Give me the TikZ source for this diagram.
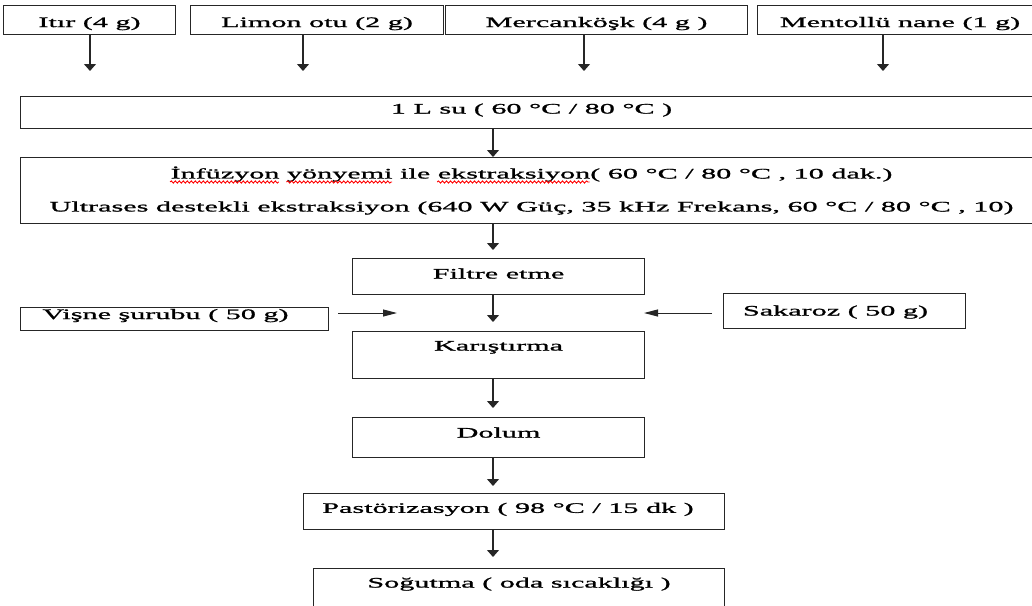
\documentclass[tikz,border=0pt]{standalone}
\usepackage{fontspec}
\setmainfont{Liberation Serif}[FakeStretch=2.08,FakeBold=1.2]
\usetikzlibrary{arrows.meta,decorations.pathmorphing}
\newlength\LineFull
\newlength\WordAend
\newlength\WordBbeg
\newlength\WordBend
\newlength\WordCbeg
\newlength\WordCend
\newcommand\mainfs{\fontsize{14.5pt}{33pt}\selectfont}
\begin{document}
\settowidth\LineFull{\mainfs İnfüzyon yönyemi ile ekstraksiyon( 60 °C / 80 °C , 10 dak.)}%
\settowidth\WordAend{\mainfs İnfüzyon}%
\settowidth\WordBbeg{\mainfs İnfüzyon }%
\settowidth\WordBend{\mainfs İnfüzyon yönyemi}%
\settowidth\WordCbeg{\mainfs İnfüzyon yönyemi ile }%
\settowidth\WordCend{\mainfs İnfüzyon yönyemi ile ekstraksiyon}%
\begin{tikzpicture}[x=1pt,y=-1pt,
  boxbase/.style={draw=black!85, line width=1.1pt, inner sep=0pt, anchor=north west,
    font=\mainfs, text=black},
  box/.style={boxbase, text height=10pt},
  varr/.style={line width=1.1pt, draw=black!85, -{Triangle[width=12pt,length=7pt]}},
  harr/.style={line width=1pt, draw=black!85, -{Triangle[width=7pt,length=14pt]}},
  spellwave/.style={draw=red, line width=0.9pt, decorate,
    decoration={snake, amplitude=1.1pt, segment length=4pt}}]
\useasboundingbox (0,0) rectangle (1032,605);
\clip (0,0) rectangle (1032,605);
% top ingredients
\node[box, minimum width=172pt, minimum height=29pt, text height=14pt, text depth=0pt] (itir) at (3,5) {Itır (4 g)};
\node[box, minimum width=253pt, minimum height=29pt, text height=14pt, text depth=0pt] (limon) at (190,5) {Limon otu (2 g)};
\node[box, minimum width=302pt, minimum height=29pt, text height=14pt, text depth=0pt] (merc) at (445,5) {Mercanköşk (4 g )};
\node[box, minimum width=285pt, minimum height=29pt, text height=14pt, text depth=0pt] (ment) at (757,5) {Mentollü nane (1 g)};
\coordinate (t1) at (90,71);
\coordinate (t2) at (303,71);
\coordinate (t3) at (584,71);
\coordinate (t4) at (883,71);
\draw[varr] (itir.south -| t1) -- (t1);
\draw[varr] (limon.south -| t2) -- (t2);
\draw[varr] (merc.south -| t3) -- (t3);
\draw[varr] (ment.south -| t4) -- (t4);
% main column
\node[box, minimum width=1022pt, minimum height=32pt, text depth=8pt] (su) at (20,96) {1 L su ( 60 °C / 80 °C )};
\node[boxbase, minimum width=1022pt, minimum height=66pt, align=center] (inf) at (20,157)
  {İnfüzyon yönyemi ile ekstraksiyon( 60 °C / 80 °C , 10 dak.)\\
   Ultrases destekli ekstraksiyon (640 W Güç, 35 kHz Frekans, 60 °C / 80 °C , 10)};
% spell-check waves under first line words
\pgfmathsetmacro\lineStart{531-0.5*\LineFull}
\pgfmathsetmacro\wAe{\lineStart+\WordAend}
\pgfmathsetmacro\wBb{\lineStart+\WordBbeg}
\pgfmathsetmacro\wBe{\lineStart+\WordBend}
\pgfmathsetmacro\wCb{\lineStart+\WordCbeg}
\pgfmathsetmacro\wCe{\lineStart+\WordCend}
\coordinate (wa1) at (\lineStart,182);
\coordinate (wa2) at (\wAe,182);
\coordinate (wb1) at (\wBb,182);
\coordinate (wb2) at (\wBe,182);
\coordinate (wc1) at (\wCb,182);
\coordinate (wc2) at (\wCe,182);
\draw[spellwave] (wa1) -- (wa2);
\draw[spellwave] (wb1) -- (wb2);
\draw[spellwave] (wc1) -- (wc2);
\node[box, minimum width=292pt, minimum height=36pt, text depth=6pt] (filtre) at (352,258) {Filtre etme};
\node[box, minimum width=292pt, minimum height=47pt, text depth=19pt] (karis) at (352,331) {Karıştırma};
\node[box, minimum width=308pt, minimum height=23pt, text depth=10pt] (visne) at (20,307) {Vişne şurubu ( 50 g)\hspace*{18pt}};
\node[box, minimum width=242pt, minimum height=35pt, text depth=1pt] (sak) at (723,293) {Sakaroz ( 50 g)\hspace*{18pt}};
\node[box, minimum width=292pt, minimum height=40pt, text depth=10pt] (dolum) at (352,417) {Dolum};
\node[box, minimum width=421pt, minimum height=36pt, text depth=7.4pt] (past) at (303,493) {Pastörizasyon ( 98 °C / 15 dk )\hspace*{12pt}};
\node[box, minimum width=411pt, minimum height=52pt, text depth=24pt] (sog) at (313,568) {Soğutma ( oda sıcaklığı )};
\coordinate (mx) at (493,0);
\draw[varr] (su.south -| mx) -- (inf.north -| mx);
\draw[varr, shorten >=8pt] (inf.south -| mx) -- (filtre.north -| mx);
\draw[varr, shorten >=9pt] (filtre.south -| mx) -- (karis.north -| mx);
\draw[varr, shorten >=9pt] (karis.south -| mx) -- (dolum.north -| mx);
\draw[varr, shorten >=7pt] (dolum.south -| mx) -- (past.north -| mx);
\draw[varr, shorten >=11pt] (past.south -| mx) -- (sog.north -| mx);
% side inputs
\coordinate (vEnd) at (397,313);
\coordinate (sEnd) at (644,313);
\draw[harr, shorten <=9pt] (visne.east |- vEnd) -- (vEnd);
\draw[harr, shorten <=11pt] (sak.west |- sEnd) -- (sEnd);
\end{tikzpicture}
\end{document}
